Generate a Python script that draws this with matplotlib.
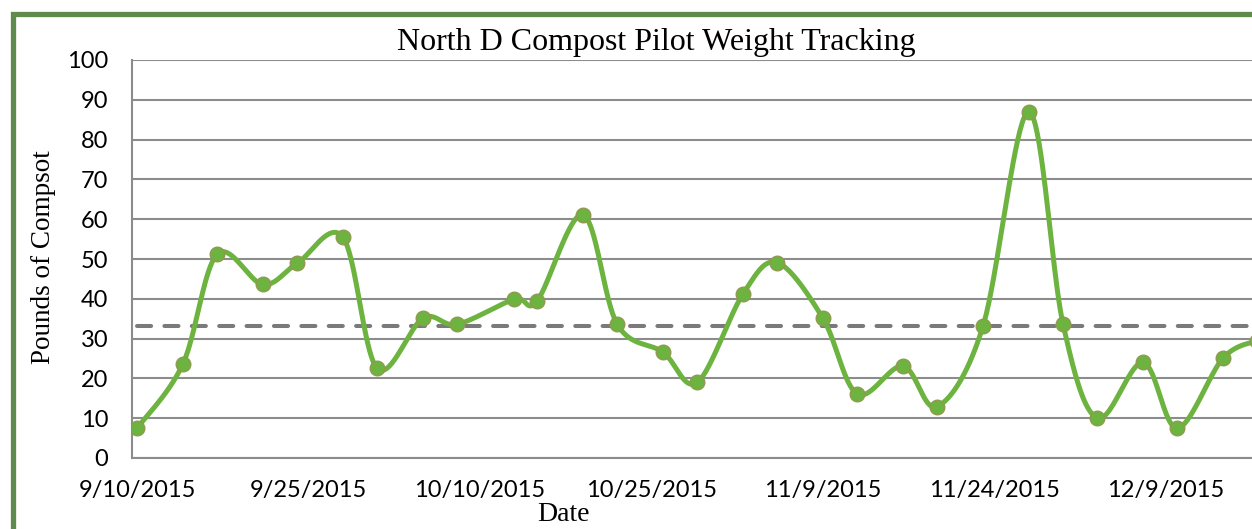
import datetime as dt
import numpy as np
import matplotlib
matplotlib.use("Agg")
import matplotlib.pyplot as plt
import matplotlib.dates as mdates
from matplotlib.patches import Rectangle

# ------------------------
# Datos
# ------------------------
fechas = ["2015-09-10", "2015-09-14", "2015-09-17", "2015-09-21", "2015-09-24",
          "2015-09-28", "2015-10-01", "2015-10-05", "2015-10-08", "2015-10-13",
          "2015-10-15", "2015-10-19", "2015-10-22", "2015-10-26", "2015-10-29",
          "2015-11-02", "2015-11-05", "2015-11-09", "2015-11-12", "2015-11-16",
          "2015-11-19", "2015-11-23", "2015-11-27", "2015-11-30", "2015-12-03",
          "2015-12-07", "2015-12-10", "2015-12-14", "2015-12-17"]
libras = [7.5, 23.6, 51.2, 43.6, 48.9,
          55.5, 22.5, 35.1, 33.6, 39.9,
          39.5, 61.1, 33.6, 26.6, 19.0,
          41.2, 49.1, 35.1, 16.1, 23.1,
          12.9, 33.1, 87.0, 33.7, 10.0,
          24.0, 7.5, 25.1, 29.5]
promedio = 33.2
fechas_ticks = ["2015-09-10", "2015-09-25", "2015-10-10", "2015-10-25",
                "2015-11-09", "2015-11-24", "2015-12-09"]

VERDE = "#6cb33f"
BORDE = "#8f9a50"
GRIS = "#8c8c8c"

# ------------------------
# Suavizado tipo Excel (Bezier / Catmull-Rom)
# ------------------------
def suavizar(x, y, n=40):
    p = np.column_stack([x, y])
    p = np.vstack([p[0], p, p[-1]])
    xs, ys = [], []
    t = np.linspace(0, 1, n)
    for i in range(1, len(p) - 2):
        p0, p1, p2, p3 = p[i - 1], p[i], p[i + 1], p[i + 2]
        c1 = p1 + (p2 - p0) / 6
        c2 = p2 - (p3 - p1) / 6
        b = ((1 - t) ** 3)[:, None] * p1 + (3 * (1 - t) ** 2 * t)[:, None] * c1 \
            + (3 * (1 - t) * t ** 2)[:, None] * c2 + (t ** 3)[:, None] * p2
        xs.extend(b[:, 0])
        ys.extend(b[:, 1])
    return np.array(xs), np.array(ys)


x = mdates.date2num([dt.date.fromisoformat(f) for f in fechas])
xt = mdates.date2num([dt.date.fromisoformat(f) for f in fechas_ticks])

W, H = 1252, 529
fig = plt.figure(figsize=(W / 100, H / 100), dpi=100)
fig.patch.set_facecolor("white")

# marco verde
fig.patches.append(Rectangle((12.5 / W, -0.1), 1.2, (H - 13.5) / H + 0.1,
                             transform=fig.transFigure, fill=False,
                             edgecolor="#5f8b4c", linewidth=3.8, zorder=0))

ax = fig.add_axes([132 / W, (H - 458) / H, (1263 - 132) / W, (458 - 60) / H])
ax.set_facecolor("none")

xs, ys = suavizar(x, libras)
ax.plot(xs, ys, color=VERDE, linewidth=3.6, solid_capstyle="round", zorder=3)
ax.plot(x, libras, linestyle="none", marker="o", markersize=10.5,
        markerfacecolor=VERDE, markeredgecolor=BORDE, markeredgewidth=1.0, zorder=4)
ax.plot([x[0], x[-1] + 5], [promedio, promedio], color="#7a7a7a", linewidth=2.9,
        dashes=(3.5, 3.3), dash_capstyle="round", zorder=2)

ax.set_xlim(x[0] - 0.45, x[0] + 98.5)
ax.set_ylim(0, 100)
ax.set_yticks(range(0, 101, 10))
ax.set_xticks(xt)
ax.set_xticklabels([f"{d.month}/{d.day}/{d.year}" for d in
                    (dt.date.fromisoformat(f) for f in fechas_ticks)])

ax.grid(axis="y", color=GRIS, linewidth=1.5)
ax.set_axisbelow(True)
for s in ["top", "right"]:
    ax.spines[s].set_visible(False)
for s in ["left", "bottom"]:
    ax.spines[s].set_color(GRIS)
    ax.spines[s].set_linewidth(1.5)
ax.tick_params(axis="both", length=0, labelsize=17)
ax.tick_params(axis="y", pad=17)
ax.tick_params(axis="x", pad=16)
for lbl in ax.get_xticklabels() + ax.get_yticklabels():
    lbl.set_fontfamily("Lato")

fig.text(656 / W, 1 - 50 / H, "North D Compost Pilot Weight Tracking",
         ha="center", va="baseline", fontsize=23, family="Liberation Serif")
fig.text(44 / W, 1 - 257 / H, "Pounds of Compsot", rotation=90,
         ha="center", va="center", fontsize=19.5, family="Liberation Serif")
fig.text(563 / W, 1 - 521 / H, "Date", ha="center", va="baseline",
         fontsize=20, family="Liberation Serif")

fig.savefig("out.png", dpi=100, facecolor="white")
